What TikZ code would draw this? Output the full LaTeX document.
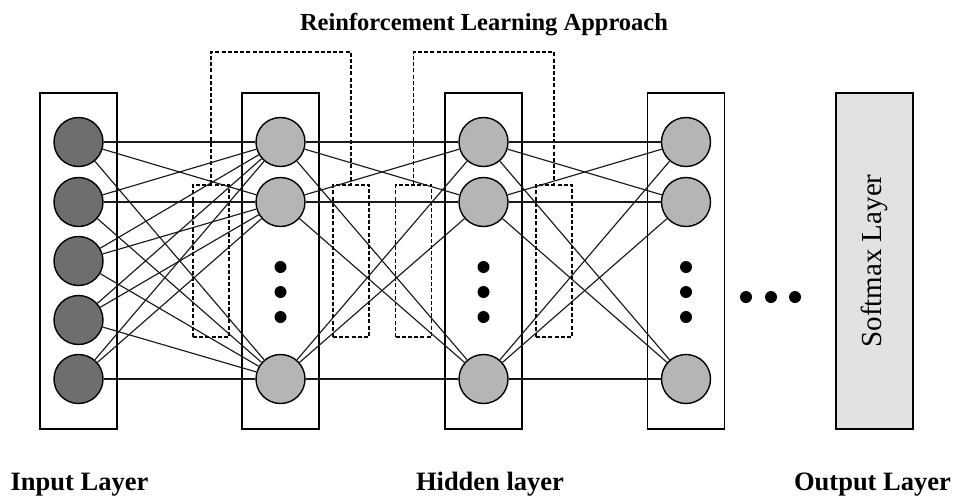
\documentclass[tikz,border=0pt]{standalone}
\usepackage{fontspec}
\setmainfont{Liberation Serif}
\definecolor{indark}{HTML}{6E6E6E}
\definecolor{hidgray}{HTML}{B5B5B5}
\definecolor{softgray}{HTML}{E2E2E2}
\definecolor{wire}{HTML}{1A1A1A}
\begin{document}
\begin{tikzpicture}[x=1pt,y=-1pt,
  layerbox/.style={draw, line width=1.5pt, minimum width=77pt, minimum height=336pt, inner sep=0pt},
  inneuron/.style={circle, draw, line width=1.4pt, fill=indark, minimum size=49pt, inner sep=0pt},
  hidneuron/.style={circle, draw, line width=1.4pt, fill=hidgray, minimum size=49pt, inner sep=0pt},
  rlbox/.style={draw, line width=1.9pt, dash pattern=on 4pt off 2.2pt, minimum width=36pt, minimum height=152pt, inner sep=0pt},
  rlpath/.style={line width=1.9pt, dash pattern=on 4pt off 2.2pt},
  conn/.style={line width=1.15pt, draw=wire},
  ellipsisdot/.style={circle, fill=black, minimum size=12pt, inner sep=0pt},
  lbl/.style={font=\bfseries\fontsize{26.5}{28}\selectfont, anchor=base, inner sep=0pt}
]
\useasboundingbox (0,0) rectangle (954,496);

% layer frames
\node[layerbox] (inbox) at (78.5,261) {};
\node[layerbox] (h1box) at (280.5,261) {};
\node[layerbox] (h2box) at (483.5,261) {};
\node[layerbox] (h3box) at (686,261) {};
\node[layerbox, fill=softgray] (smbox) at (874.5,261) {};
\node[rotate=90, font=\fontsize{29}{31}\selectfont] (smtext) at (smbox.center) {Softmax Layer};

% reinforcement learning blocks
\node[rlbox] (ra) at (211,261) {};
\node[rlbox] (rb) at (351,261) {};
\node[rlbox] (rc) at (413.5,261) {};
\node[rlbox] (rd) at (554,261) {};
\draw[rlpath] (ra.north) -- ++(0,-132) -| (rb.north);
\draw[rlpath] (rc.north) -- ++(0,-132) -| (rd.north);

% neurons
\foreach \k/\y in {1/142,2/202,3/261,4/320,5/379}
  \node[inneuron] (i\k) at (78.5,\y) {};
\foreach \col/\x in {a/280.5,b/483.5,c/686}{
  \node[hidneuron] (\col1) at (\x,142) {};
  \node[hidneuron] (\col2) at (\x,202) {};
  \node[hidneuron] (\col3) at (\x,379) {};
  \foreach \y in {267,292,317}
    \node[ellipsisdot] at (\x,\y) {};
}

% connections
\foreach \s in {1,...,5}
  \foreach \t in {1,2,3}
    \draw[conn] (i\s) -- (a\t);
\foreach \s in {1,2,3}
  \foreach \t in {1,2,3}{
    \draw[conn] (a\s) -- (b\t);
    \draw[conn] (b\s) -- (c\t);
  }

% further layers
\foreach \x in {746,771,795}
  \node[ellipsisdot] at (\x,297) {};

% captions
\node[font=\bfseries\fontsize{24.5}{27}\selectfont, anchor=base, inner sep=0pt] (title) at (484,30) {Reinforcement Learning Approach};
\node[lbl] (inlbl) at (79.5,490) {Input Layer};
\node[lbl] (hidlbl) at (490,490) {Hidden layer};
\node[lbl] (outlbl) at (872.5,490) {Output Layer};
\end{tikzpicture}
\end{document}
